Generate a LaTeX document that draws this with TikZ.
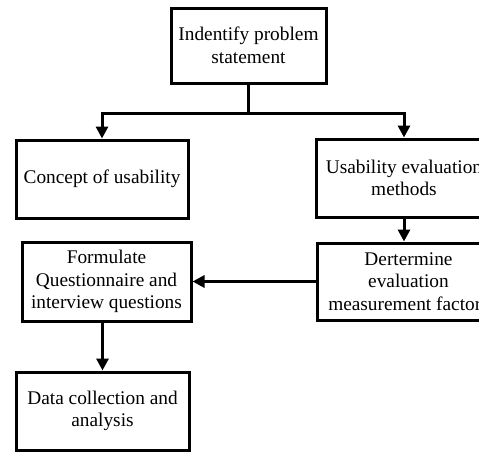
\documentclass[tikz,border=0pt]{standalone}
\usepackage{fontspec}
\setmainfont{Liberation Serif}
\usetikzlibrary{arrows.meta}

\tikzset{
    box/.style={draw, line width=2.25pt, align=center, inner sep=2pt, font=\fontsize{14.5}{17}\selectfont},
    arr/.style={line width=2.25pt, -{Triangle[length=9pt,width=9pt]}}
}

\begin{document}
\begin{tikzpicture}[x=0.75pt,y=-0.75pt]

    \clip (0,0) rectangle (479,451);

    \node[box, minimum width=116.25pt, minimum height=56.25pt] (problem) at (248.5,45.5) {Indentify problem\\statement};

    \node[box, minimum width=129pt, minimum height=58.5pt] (concept) at (102,179) {Concept of usability};
    \node[box, minimum width=132pt, minimum height=58.5pt] (methods) at (404,178) {Usability evaluation\\methods};

    \node[box, minimum width=126.75pt, minimum height=59.25pt] (questions) at (106.5,281.5) {Formulate\\Questionnaire and\\interview questions};
    \node[box, minimum width=137.25pt, minimum height=57.75pt] (factors) at (408.5,281.5) {Dertermine\\evaluation\\measurement factors};

    \node[box, minimum width=129.75pt, minimum height=58.5pt] (analysis) at (102.5,411) {Data collection and\\analysis};

    \coordinate (split) at (248.5,113);

    \draw[line width=2.25pt] (problem) -- (split);
    \draw[arr] (split) -| (concept);
    \draw[arr] (split) -| (methods);

    \draw[arr] (methods.south) -- (methods.south |- factors.north);
    \draw[arr] (factors) -- (questions);
    \draw[arr] (questions.south -| analysis.north) -- (analysis.north);

\end{tikzpicture}
\end{document}
